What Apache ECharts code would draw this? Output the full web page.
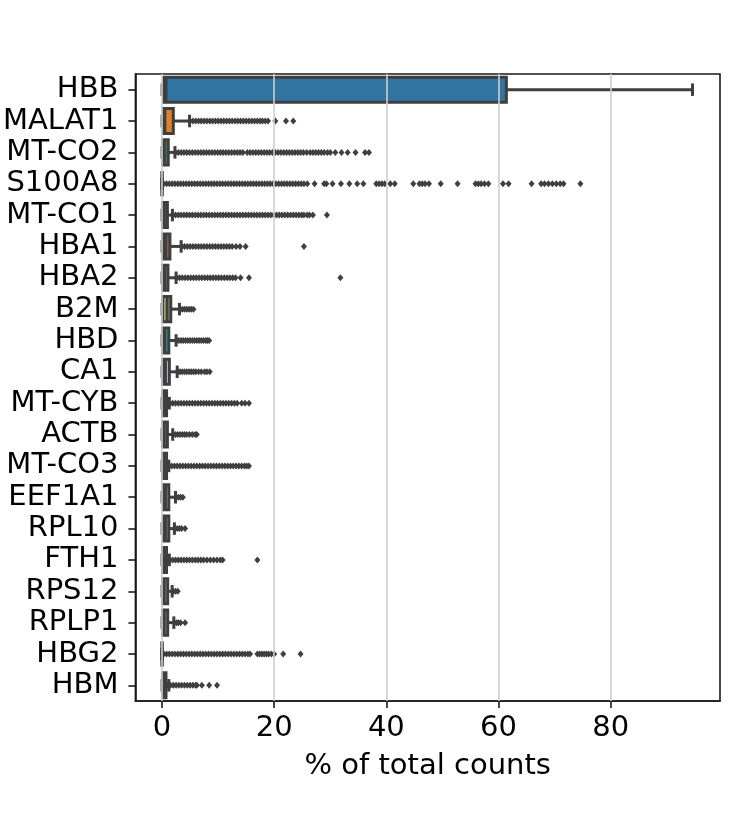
<!DOCTYPE html>
<html>
<head>
<meta charset="utf-8">
<script src="https://cdn.jsdelivr.net/npm/echarts@6/dist/echarts.min.js"></script>
<style>
html, body { margin: 0; padding: 0; background: #fff; }
#chart { width: 750px; height: 825px; }
</style>
</head>
<body>
<div id="chart"></div>
<script>
var genes = ['HBB', 'MALAT1', 'MT-CO2', 'S100A8', 'MT-CO1', 'HBA1', 'HBA2', 'B2M', 'HBD', 'CA1',
    'MT-CYB', 'ACTB', 'MT-CO3', 'EEF1A1', 'RPL10', 'FTH1', 'RPS12', 'RPLP1', 'HBG2', 'HBM'];

var boxColors = ['#3274a1', '#e1812c', '#368f67', '#c03d3e', '#a758e5', '#845b53', '#d684bd', '#acb26d', '#2eabb8', '#b5c8e1',
    '#eebb89', '#9fd495', '#f2a5a3', '#c4b5d0', '#bea09a', '#efbed3', '#d1d197', '#a7d4dc', '#a15656', '#81693c'];

// whisker low, Q1, median, Q3, whisker high (% of total counts)
var whiskLow = [0, 0, 0, 0, 0, 0, 0, 0, 0, 0, 0, 0, 0, 0, 0, 0, 0, 0, 0, 0];
var q1 = [0.3, 0.2, 0.1, 0, 0.1, 0.1, 0.1, 0.1, 0.1, 0.1, 0.1, 0.1, 0.1, 0.2, 0.2, 0.1, 0.1, 0.1, 0, 0.1];
var median = [0.7, 0.5, 0.4, 0, 0.4, 0.6, 0.5, 0.9, 0.5, 0.6, 0.4, 0.4, 0.4, 0.6, 0.6, 0.4, 0.4, 0.4, 0, 0.3];
var q3 = [61.4, 2.0, 1.1, 0, 0.95, 1.4, 1.05, 1.55, 1.2, 1.3, 0.8, 0.95, 0.8, 1.2, 1.2, 0.8, 1.0, 1.0, 0, 0.7];
var whiskHigh = [94.6, 4.9, 2.3, 0, 1.85, 3.4, 2.5, 3.1, 2.5, 2.7, 1.3, 1.9, 1.2, 2.4, 2.2, 1.3, 1.8, 2.1, 0, 1.2];

var fliers = [
    [],
    [5.0,5.5,6.0,6.5,7.0,7.5,8.0,8.5,9.0,9.5,10.0,10.5,11.0,11.5,12.0,12.5,13.0,13.5,14.0,14.5,15.0,15.5,16.0,16.5,17.0,17.5,17.9,18.4,18.9,20.2,22.1,23.4],
    [2.4,2.9,3.4,3.9,4.4,4.9,5.4,5.9,6.4,6.9,7.4,7.9,8.4,8.9,9.4,9.9,10.4,10.9,11.4,11.9,12.4,12.9,13.4,13.9,14.4,15.2,15.7,16.2,16.7,17.2,17.7,18.2,18.7,19.2,19.7,20.2,20.7,21.2,21.7,22.2,22.7,23.2,23.7,24.2,24.7,25.2,25.8,26.4,26.9,27.4,27.9,28.4,28.9,29.5,30.0,30.9,32.0,33.1,34.5,36.2,36.9],
    [0.3,0.8,1.3,1.8,2.3,2.8,3.3,3.8,4.3,4.8,5.3,5.8,6.3,6.8,7.3,7.8,8.3,8.8,9.3,9.8,10.3,10.8,11.3,11.8,12.3,12.8,13.3,13.8,14.3,14.8,15.3,15.8,16.3,16.8,17.3,17.8,18.3,18.8,19.3,19.8,20.3,20.8,21.3,21.8,22.3,22.8,23.3,23.8,24.3,24.8,25.3,25.9,27.2,28.9,29.3,30.4,31.9,33.4,34.8,35.9,38.2,38.7,39.2,39.7,40.7,41.5,44.8,45.9,46.4,46.9,47.6,49.7,52.7,55.9,56.4,56.9,57.5,58.2,60.8,61.8,65.9,67.6,68.2,68.9,69.6,70.3,71.0,71.6,74.6],
    [1.9,2.4,2.9,3.4,3.9,4.4,4.9,5.4,5.9,6.4,6.9,7.4,7.9,8.4,8.9,9.4,9.9,10.4,10.9,11.4,11.9,12.4,12.9,13.4,13.9,14.4,14.9,15.4,15.9,16.4,16.9,17.4,17.9,18.4,18.9,19.4,19.9,20.4,20.9,21.4,21.9,22.4,22.9,23.4,23.9,24.4,24.9,25.3,25.9,26.3,26.9,29.4],
    [3.5,4.0,4.5,5.0,5.5,6.0,6.5,7.0,7.5,8.0,8.5,9.0,9.5,10.0,10.5,11.0,11.5,12.0,12.5,13.2,13.9,14.9,25.3],
    [2.6,3.1,3.6,4.1,4.6,5.1,5.6,6.1,6.6,7.1,7.6,8.1,8.6,9.1,9.6,10.1,10.6,11.1,11.6,12.1,12.6,13.1,14.0,15.5,31.8],
    [3.2,3.6,4.0,4.4,4.8,5.2,5.6],
    [2.6,3.0,3.4,3.8,4.2,4.6,5.0,5.4,5.8,6.2,6.6,7.0,7.4,7.8,8.1,8.4],
    [2.8,3.2,3.6,4.0,4.4,4.8,5.2,5.6,6.0,6.5,7.0,7.6,8.0,8.5],
    [1.4,1.9,2.4,2.9,3.4,3.9,4.4,4.9,5.4,5.9,6.4,6.9,7.4,7.9,8.4,8.9,9.4,9.9,10.4,10.9,11.4,11.9,12.4,12.9,13.4,14.2,14.8,15.5],
    [2.0,2.4,2.8,3.2,3.6,4.0,4.4,4.9,5.4,5.9,6.2],
    [1.2,1.7,2.2,2.7,3.2,3.7,4.2,4.7,5.2,5.7,6.2,6.7,7.2,7.7,8.2,8.7,9.2,9.7,10.2,10.7,11.2,11.7,12.2,12.7,13.2,13.7,14.2,14.7,15.1,15.5],
    [2.5,2.9,3.3,3.7],
    [2.3,2.7,3.1,3.5,4.1],
    [1.4,1.9,2.4,2.9,3.4,3.9,4.4,4.9,5.4,5.9,6.4,6.9,7.4,8.0,8.6,9.2,9.8,10.4,10.8,17.0],
    [2.0,2.4,2.8],
    [2.2,2.6,2.9,3.3,4.1],
    [0.3,0.8,1.3,1.8,2.3,2.8,3.3,3.8,4.3,4.8,5.3,5.8,6.3,6.8,7.3,7.8,8.3,8.8,9.3,9.8,10.3,10.8,11.3,11.8,12.3,12.8,13.3,13.8,14.3,14.8,15.3,15.7,17.0,17.4,17.8,18.2,18.6,19.0,19.5,20.0,21.6,24.7],
    [1.0,1.5,2.0,2.5,3.0,3.5,4.0,4.5,5.0,5.5,6.0,6.2,7.1,8.4,9.8]
];

var xTicks = [0, 20, 40, 60, 80];

var lineColor = '#3f3f3f';
var axisColor = '#1a1a1a';
var fontFamily = 'DejaVu Sans';
var fontSize = 29;

var boxData = [];
for (var i = 0; i < genes.length; i++) {
    boxData.push([i, whiskLow[i], q1[i], median[i], q3[i], whiskHigh[i]]);
}

var flierData = [];
for (var g = 0; g < fliers.length; g++) {
    for (var k = 0; k < fliers[g].length; k++) {
        flierData.push([fliers[g][k], g]);
    }
}

function renderBox(params, api) {
    var idx = api.value(0);
    var pLow = api.coord([api.value(1), idx]);
    var pQ1 = api.coord([api.value(2), idx]);
    var pMed = api.coord([api.value(3), idx]);
    var pQ3 = api.coord([api.value(4), idx]);
    var pHigh = api.coord([api.value(5), idx]);
    var h = api.size([0, 1])[1] * 0.8;
    var cy = pQ1[1];
    var lw = 3;
    var stroke = { stroke: lineColor, lineWidth: lw, fill: null };
    return {
        type: 'group',
        children: [
            { type: 'line', shape: { x1: pLow[0], y1: cy, x2: pQ1[0], y2: cy }, style: stroke },
            { type: 'line', shape: { x1: pQ3[0], y1: cy, x2: pHigh[0], y2: cy }, style: stroke },
            { type: 'line', shape: { x1: pLow[0], y1: cy - h / 4, x2: pLow[0], y2: cy + h / 4 }, style: stroke },
            { type: 'line', shape: { x1: pHigh[0], y1: cy - h / 4, x2: pHigh[0], y2: cy + h / 4 }, style: stroke },
            {
                type: 'rect',
                shape: { x: pQ1[0], y: cy - h / 2, width: Math.max(pQ3[0] - pQ1[0], 0), height: h },
                style: { fill: boxColors[idx], stroke: lineColor, lineWidth: lw }
            },
            { type: 'line', shape: { x1: pMed[0], y1: cy - h / 2, x2: pMed[0], y2: cy + h / 2 }, style: stroke }
        ]
    };
}

var chart = echarts.init(document.getElementById('chart'), null, { renderer: 'canvas' });

var option = {
    animation: false,
    backgroundColor: '#ffffff',
    grid: {
        left: 135, right: 30, top: 74, bottom: 124,
        show: true, borderColor: axisColor, borderWidth: 1.6, backgroundColor: 'transparent'
    },
    xAxis: {
        type: 'value',
        min: -4.75,
        max: 99.5,
        name: '% of total counts',
        nameLocation: 'middle',
        nameGap: 51,
        nameTextStyle: { fontFamily: fontFamily, fontSize: fontSize, color: '#000' },
        axisLine: { show: true, onZero: false, lineStyle: { color: axisColor, width: 1.6 } },
        axisTick: { show: true, length: 7, customValues: xTicks, lineStyle: { color: axisColor, width: 1.6 } },
        axisLabel: { customValues: xTicks, margin: 13, fontFamily: fontFamily, fontSize: fontSize, color: '#000' },
        splitLine: { show: false }
    },
    yAxis: {
        type: 'category',
        data: genes,
        inverse: true,
        axisLine: { show: true, onZero: false, lineStyle: { color: axisColor, width: 1.6 } },
        axisTick: { show: true, interval: 0, alignWithLabel: true, length: 7, lineStyle: { color: axisColor, width: 1.6 } },
        axisLabel: { interval: 0, margin: 17, padding: [5, 0, 0, 0], fontFamily: fontFamily, fontSize: fontSize, color: '#000' },
        splitLine: { show: false }
    },
    series: [
        {
            type: 'scatter',
            name: 'grid',
            data: [],
            silent: true,
            markLine: {
                silent: true,
                symbol: 'none',
                label: { show: false },
                lineStyle: { color: '#cfcfcf', width: 1.6, type: 'solid' },
                data: xTicks.map(function (v) { return { xAxis: v }; })
            },
            z: 1
        },
        {
            type: 'custom',
            name: 'boxes',
            renderItem: renderBox,
            data: boxData,
            encode: { x: [1, 2, 3, 4, 5], y: 0 },
            z: 3
        },
        {
            type: 'scatter',
            name: 'outliers',
            data: flierData,
            symbol: 'diamond',
            symbolSize: [6, 7],
            itemStyle: { color: lineColor, opacity: 1 },
            z: 4
        }
    ]
};

chart.setOption(option);
</script>
</body>
</html>
